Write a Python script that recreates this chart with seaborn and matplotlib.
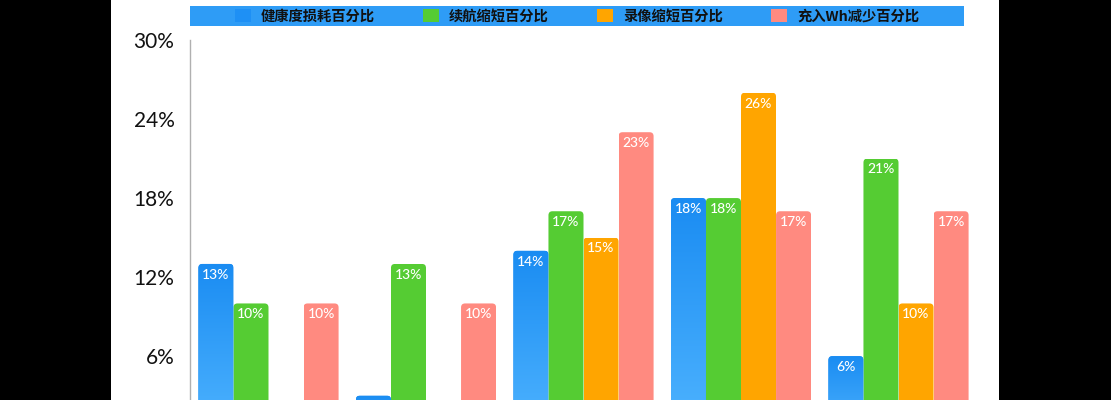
import numpy as np
import pandas as pd
import seaborn as sns
import matplotlib.pyplot as plt
from matplotlib.patches import Rectangle, Patch, FancyBboxPatch
from matplotlib.colors import LinearSegmentedColormap

groups = ['G1', 'G2', 'G3', 'G4', 'G5']
series = ['健康度损耗百分比', '续航缩短百分比', '录像缩短百分比', '充入Wh减少百分比']
health = [13, 3, 14, 18, 6]
battery = [10, 13, 17, 18, 21]
video = [0, 0, 15, 26, 10]
wh = [10, 10, 23, 17, 17]
yticks = [6, 12, 18, 24, 30]
colors = ['#1e90f5', '#55cc33', '#ffa500', '#ff8a80']

rows = []
for name, vals in zip(series, [health, battery, video, wh]):
    for g, v in zip(groups, vals):
        rows.append({'group': g, 'series': name, 'value': v})
df = pd.DataFrame(rows)

sns.set_theme(style='white')
cjk = ['Noto Sans CJK SC', 'DejaVu Sans']

W, H = 1111, 400
fig = plt.figure(figsize=(W / 100, H / 100), dpi=100, facecolor='black')
fig.patches.append(Rectangle((111 / W, 0), 888 / W, 1, transform=fig.transFigure,
                             facecolor='white', edgecolor='none', zorder=-2))
# legend band
fig.patches.append(Rectangle((190 / W, 1 - 26 / H), 774 / W, 20 / H, transform=fig.transFigure,
                             facecolor='#2e9cf6', edgecolor='none', zorder=1))

ax = fig.add_axes([189.75 / W, 0, 787.5 / W, 0.9])
ax.set_facecolor('white')
sns.barplot(data=df, x='group', y='value', hue='series', palette=colors, width=0.89,
            saturation=1, ax=ax, legend=False, errorbar=None)

ax.set_xlim(-0.5, 4.5)
ax.set_ylim(2.67, 30)

# pixel scale for rounded corners
px_x = (ax.get_xlim()[1] - ax.get_xlim()[0]) / 787.5
px_y = (ax.get_ylim()[1] - ax.get_ylim()[0]) / 360
r = 4 * px_x

grad_cmap = LinearSegmentedColormap.from_list('bg', ['#4fb4ff', '#1a8cf2'])
grad = np.linspace(0, 1, 256).reshape(-1, 1)

for ci, cont in enumerate(ax.containers):
    for bar in cont:
        h = bar.get_height()
        if h <= 0:
            continue
        x0, w = bar.get_x(), bar.get_width()
        bar.set_edgecolor('none')
        clip = FancyBboxPatch((x0, 0), w, h, boxstyle=f'round,pad=0,rounding_size={r}',
                              mutation_aspect=px_y / px_x, transform=ax.transData,
                              facecolor='none', edgecolor='none')
        bar.set_clip_path(clip)
        if ci == 0:
            im = ax.imshow(grad, extent=[x0, x0 + w, 0, h], aspect='auto', cmap=grad_cmap,
                           origin='lower', zorder=bar.get_zorder() + 0.1)
            im.set_clip_path(clip)
        ax.annotate(f'{int(h)}%', xy=(x0 + w / 2, h), xytext=(0, -3.5), textcoords='offset points',
                    ha='center', va='top', color='white', fontsize=10, fontfamily='Lato',
                    fontweight='medium', zorder=5)

ax.set_xlim(-0.5, 4.5)
ax.set_ylim(2.67, 30)
ax.set_yticks(yticks)
ax.set_yticklabels([f'{t}%' for t in yticks], fontfamily='Lato', fontsize=15, color='#111111')
ax.tick_params(axis='y', length=0, pad=11)
ax.tick_params(axis='x', length=0, labelbottom=False)
ax.set_xlabel('')
ax.set_ylabel('')
for s in ['top', 'right', 'bottom']:
    ax.spines[s].set_visible(False)
ax.spines['left'].set_color('#b0b0b0')
ax.spines['left'].set_linewidth(1)

handles = [Patch(facecolor=c, edgecolor='none') for c in colors]
leg = fig.legend(handles, series, loc='center', bbox_to_anchor=(577 / W, 1 - 16 / H), ncol=4,
                 frameon=False, handlelength=1.1, handleheight=1.1, handletextpad=0.7,
                 columnspacing=3.4, borderpad=0,
                 prop={'family': cjk, 'weight': 'bold', 'size': 10.3})
leg.set_zorder(3)
for t in leg.get_texts():
    t.set_color('#111111')

fig.savefig('out.png', dpi=100, facecolor=fig.get_facecolor())
